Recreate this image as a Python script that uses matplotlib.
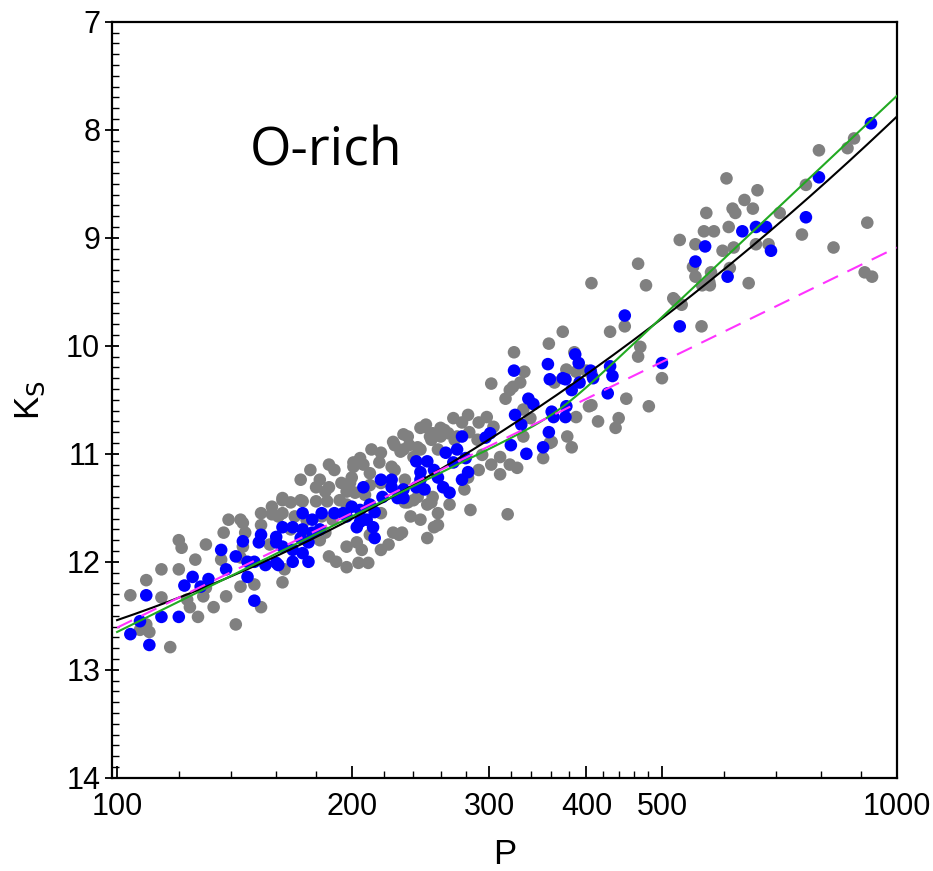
import numpy as np
import matplotlib
matplotlib.use('Agg')
import matplotlib.pyplot as plt
from matplotlib.ticker import FixedLocator, NullFormatter, MultipleLocator

# gray: all O-rich stars, blue: selected subsample (period in days, Ks mag)
gray_P = [795, 865, 882, 605, 663, 638, 616, 621, 654, 570, 708, 609, 566, 583, 765, 527, 552, 598, 618, 660,
          685, 756, 830, 917, 466, 477, 548, 552, 578, 575, 563, 576, 611, 646, 910, 930, 517,
          406, 520, 530, 429, 448, 562, 469, 466, 406, 500, 406, 450, 481, 440, 414, 436,
          373, 358, 323, 302, 315, 322, 329, 333, 319, 377, 388, 400, 386, 364, 403, 298, 304, 332, 378, 388,
          383, 359, 332, 339,
          236, 248, 270, 282, 277, 273, 252, 260, 245, 240, 233, 294, 310, 302, 319, 326, 352, 361,
          317, 255, 232, 234, 250, 254, 240, 282, 291,
          226, 243, 253, 258, 231, 218, 217, 225, 207, 201, 211, 200, 194, 187, 182, 185, 180, 197, 202, 211,
          218, 197, 186, 180, 173, 167, 163, 158, 161, 175, 169, 183, 189, 236, 243, 253, 258, 238, 218, 226,
          230, 250, 258, 223, 211, 203, 206, 197, 187, 204, 210, 197, 191, 185, 182, 175,
          139, 120, 121, 114, 120, 109, 104, 114, 123, 124, 129, 127, 133, 138, 130, 109, 107, 110, 117, 142,
          153, 145, 146, 145, 144, 144, 150, 136, 137, 153, 158, 163, 163, 164,
          172, 177, 190, 205, 212, 227, 237, 263, 271, 283, 290, 245, 172, 193, 208, 227, 234, 199, 153, 167,
          144, 130, 126, 157, 245, 267, 279, 291, 310, 284, 218, 249, 233, 201, 187, 163, 254, 260, 266]
gray_K = [8.19, 8.17, 8.08, 8.45, 8.56, 8.65, 8.73, 8.77, 8.73, 8.77, 8.77, 8.90, 8.94, 8.94, 8.51, 9.02, 9.06, 9.12, 9.09, 9.06,
          9.06, 8.97, 9.09, 8.86, 9.24, 9.44, 9.27, 9.36, 9.32, 9.41, 9.44, 9.44, 9.28, 9.42, 9.32, 9.36, 9.56,
          9.42, 9.58, 9.62, 9.87, 9.82, 9.82, 10.01, 10.10, 10.26, 10.30, 10.55, 10.49, 10.56, 10.67, 10.70, 10.76,
          9.87, 9.98, 10.06, 10.35, 10.49, 10.38, 10.34, 10.24, 10.41, 10.22, 10.24, 10.23, 10.06, 10.34, 10.56, 10.66, 10.75, 10.84, 10.84, 10.66,
          10.94, 10.90, 10.59, 10.67,
          10.84, 10.75, 10.67, 10.64, 10.71, 10.84, 10.84, 10.84, 10.96, 11.03, 10.96, 11.01, 11.03, 11.10, 11.10, 11.13, 11.04, 10.89,
          11.56, 11.68, 11.73, 11.45, 11.47, 11.40, 11.43, 11.22, 10.71,
          10.89, 10.94, 10.87, 10.96, 10.98, 10.99, 11.08, 11.12, 11.10, 11.12, 11.18, 11.22, 11.27, 11.31, 11.24, 11.35, 11.31, 11.35, 11.36, 11.29,
          11.27, 11.47, 11.44, 11.44, 11.44, 11.45, 11.43, 11.49, 11.58, 11.61, 11.58, 11.58, 11.61, 11.45, 11.40, 11.45, 11.55, 11.58, 11.55, 11.73,
          11.75, 11.78, 11.66, 11.84, 11.75, 11.82, 11.89, 11.86, 11.95, 12.01, 12.01, 12.05, 12.00, 11.73, 11.80, 11.80,
          11.61, 11.80, 11.87, 12.07, 12.07, 12.17, 12.31, 12.33, 12.35, 12.42, 12.32, 12.51, 12.42, 12.32, 12.24, 12.58, 12.63, 12.65, 12.79, 12.58,
          12.42, 11.64, 11.73, 11.86, 11.96, 12.23, 12.21, 11.98, 11.73, 11.55, 11.56, 11.55, 12.19, 12.07,
          11.24, 11.15, 11.15, 11.04, 10.96, 10.92, 10.92, 10.78, 10.87, 10.80, 10.87, 10.76, 11.43, 11.43, 11.38, 11.15, 11.24, 11.27, 11.66, 11.70,
          11.61, 11.84, 11.98, 11.84, 11.61, 11.47, 11.33, 11.15, 11.19, 11.52, 11.89, 10.73, 10.82, 11.08, 11.10, 11.41, 10.81, 10.76, 10.81]

blue_P = [927, 795, 765, 660, 680, 634, 568, 690, 552, 607, 448, 527, 500, 429, 432, 426,
          323, 357, 359, 387, 391, 373, 376, 392, 383, 405, 408, 337, 342, 324, 361, 363, 376, 377, 330, 358,
          301, 297, 320, 352,
          335, 277, 273, 264, 280, 270, 282, 277, 262, 267, 250, 242, 255, 258, 245, 248, 242, 233, 233, 245,
          218, 225, 225, 229, 219,
          207, 200, 205, 197, 211, 214, 209, 195, 190, 205, 213, 203, 214, 183, 173, 178, 182, 163, 168, 160,
          173, 178, 172, 176, 168, 163, 173, 176, 160, 168,
          136, 145, 142, 147, 150, 153, 152, 155, 161, 147, 138, 131, 125, 128, 122, 109, 114, 120,
          107, 104, 110, 150, 160]
blue_K = [7.94, 8.44, 8.81, 8.90, 8.90, 8.94, 9.08, 9.12, 9.22, 9.36, 9.72, 9.82, 10.16, 10.19, 10.28, 10.44,
          10.23, 10.17, 10.31, 10.08, 10.16, 10.30, 10.31, 10.34, 10.41, 10.23, 10.30, 10.49, 10.54, 10.64, 10.61, 10.66, 10.66, 10.56, 10.73, 10.80,
          10.81, 10.85, 10.92, 10.94,
          11.00, 10.84, 10.96, 10.99, 11.04, 11.08, 11.17, 11.24, 11.31, 11.36, 11.07, 11.07, 11.15, 11.22, 11.24, 11.33, 11.31, 11.33, 11.41, 11.17,
          11.24, 11.24, 11.31, 11.41, 11.40,
          11.31, 11.49, 11.52, 11.58, 11.47, 11.54, 11.61, 11.55, 11.55, 11.63, 11.68, 11.68, 11.78, 11.55, 11.55, 11.61, 11.70, 11.68, 11.68, 11.77,
          11.70, 11.73, 11.78, 11.82, 11.89, 11.86, 11.92, 12.00, 12.01, 12.00,
          11.89, 11.81, 11.95, 12.00, 12.00, 11.75, 11.82, 12.03, 12.03, 12.14, 12.07, 12.16, 12.14, 12.23, 12.22, 12.31, 12.51, 12.51,
          12.55, 12.67, 12.77, 12.36, 11.82]

# fitted relations, u = log10(P) - 2
black_fit = [12.54, -2.45, -2.21]          # quadratic: a + b*u + c*u^2
green_fit = [12.65, -3.55, -3.25, 0.5655]  # broken line: a + b*u + c*(u - u_break) above the break
magenta_fit = [12.61, -3.52]               # linear: a + b*u

x_major = [100, 200, 300, 400, 500, 1000]
x_minor = [120, 140, 160, 180, 220, 240, 260, 280, 320, 340, 360, 380, 420, 440, 460, 480, 600, 700, 800, 900]

tick_font = ['Liberation Sans', 'DejaVu Sans']

fig = plt.figure(figsize=(9.33, 8.71), dpi=100)
ax = fig.add_axes([0.120, 0.107, 0.841, 0.868])

ax.scatter(gray_P, gray_K, s=82, color='#808080', edgecolors='none', zorder=2)
ax.scatter(blue_P, blue_K, s=82, color='#0000ff', edgecolors='none', zorder=3)

pp = np.logspace(2, 3, 400)
u = np.log10(pp) - 2
k_black = black_fit[0] + black_fit[1] * u + black_fit[2] * u ** 2
w = 0.02  # slight rounding of the knee
k_green = green_fit[0] + green_fit[1] * u + green_fit[2] * w * np.logaddexp(0, (u - green_fit[3]) / w)
k_mag = magenta_fit[0] + magenta_fit[1] * u

ax.plot(pp, k_black, color='black', lw=1.5, zorder=4)
ax.plot(pp, k_green, color='#22aa22', lw=1.5, zorder=4)
ax.plot(pp, k_mag, color='#ff33ff', lw=1.5, ls='--', dashes=(8, 5), zorder=4)

ax.set_xscale('log')
ax.set_xlim(98.5, 1000)
ax.set_ylim(14, 7)

ax.xaxis.set_major_locator(FixedLocator(x_major))
ax.xaxis.set_minor_locator(FixedLocator(x_minor))
ax.xaxis.set_major_formatter(plt.FixedFormatter([str(v) for v in x_major]))
ax.xaxis.set_minor_formatter(NullFormatter())
ax.yaxis.set_major_locator(MultipleLocator(1))
ax.yaxis.set_minor_locator(MultipleLocator(0.1))

ax.tick_params(axis='x', which='major', direction='in', length=9, width=1.3, labelsize=22, pad=10)
ax.tick_params(axis='y', which='major', direction='inout', length=10, width=1.3, labelsize=22)
ax.tick_params(axis='both', which='minor', direction='in', length=5, width=1.0)
ax.tick_params(axis='both', which='both', top=False, right=False)
for lab in ax.get_xticklabels() + ax.get_yticklabels():
    lab.set_family(tick_font)

for sp in ax.spines.values():
    sp.set_linewidth(1.6)

ax.set_xlabel('P', fontsize=25, family=tick_font, labelpad=12)
ax.set_ylabel(r'K$_\mathrm{S}$', fontsize=25, family=tick_font, labelpad=14)

ax.text(0.176, 0.828, 'O-rich', transform=ax.transAxes, fontsize=38.5, family=['Open Sans', 'DejaVu Sans'],
        va='center', ha='left')

fig.savefig('out.png', dpi=100)
